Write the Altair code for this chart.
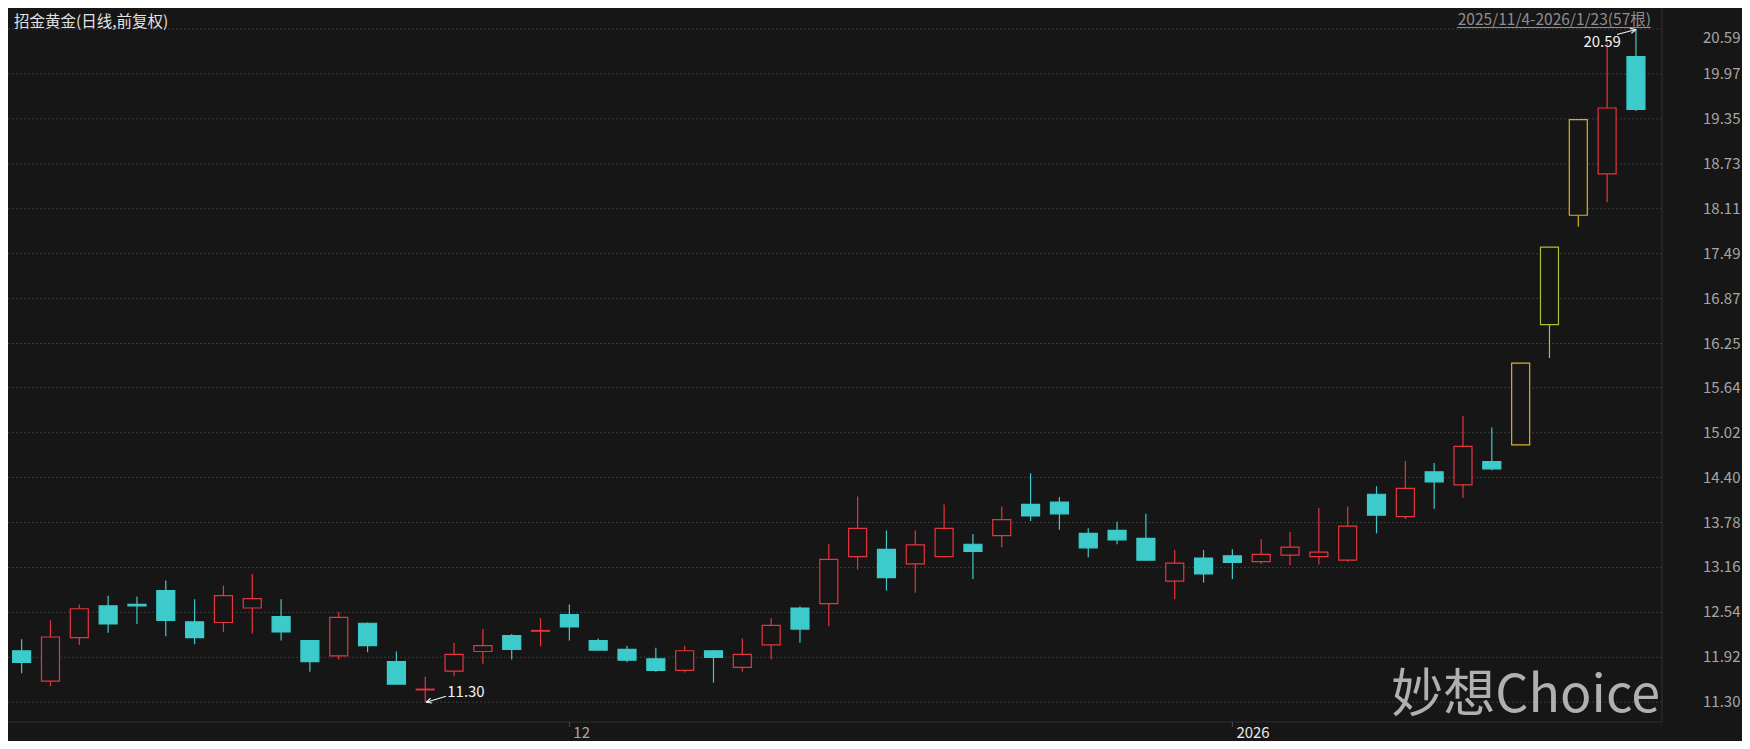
import altair as alt
import numpy as np
import pandas as pd

# ---------------- data ----------------
trade_days = [d for d in pd.bdate_range("2025-11-04", "2026-01-23")
              if not (d.month == 1 and d.day in (1, 2))]
dates = [d.strftime("%Y-%m-%d") for d in trade_days]

opens = [12.01, 11.59, 12.19, 12.63, 12.65, 12.84, 12.41, 12.40, 12.60, 12.48,
         12.15, 11.94, 12.39, 11.86, 11.47, 11.73, 12.00, 12.22, 12.28, 12.51,
         12.15, 12.03, 11.90, 11.74, 12.01, 11.78, 12.09, 12.60, 12.66, 13.31,
         13.41, 13.21, 13.31, 13.48, 13.60, 14.03, 14.06, 13.63, 13.67, 13.56,
         12.97, 13.29, 13.32, 13.24, 13.33, 13.31, 13.26, 14.17, 13.86, 14.48,
         14.30, 14.62, 14.85, 16.51, 18.02, 18.59, 20.21]
highs = [12.17, 12.43, 12.65, 12.77, 12.76, 12.98, 12.72, 12.91, 13.07, 12.72,
         12.16, 12.54, 12.40, 12.00, 11.65, 12.12, 12.31, 12.24, 12.46, 12.65,
         12.18, 12.08, 12.05, 12.08, 12.02, 12.18, 12.46, 12.62, 13.48, 14.14,
         13.67, 13.67, 14.03, 13.62, 14.00, 14.46, 14.13, 13.70, 13.79, 13.90,
         13.40, 13.40, 13.41, 13.55, 13.65, 13.98, 14.00, 14.28, 14.63, 14.60,
         15.25, 15.09, 15.98, 17.58, 19.34, 20.40, 20.59]
lows = [11.70, 11.52, 12.09, 12.26, 12.38, 12.21, 12.10, 12.27, 12.25, 12.15,
        11.72, 11.89, 11.99, 11.55, 11.30, 11.66, 11.83, 11.89, 12.07, 12.15,
        12.01, 11.85, 11.72, 11.71, 11.57, 11.72, 11.89, 12.12, 12.35, 13.13,
        12.84, 12.81, 13.30, 13.00, 13.44, 13.80, 13.68, 13.30, 13.48, 13.26,
        12.72, 12.95, 13.00, 13.21, 13.19, 13.20, 13.24, 13.63, 13.83, 13.97,
        14.12, 14.50, 14.85, 16.05, 17.86, 18.20, 19.46]
closes = [11.85, 12.20, 12.59, 12.38, 12.63, 12.43, 12.19, 12.77, 12.73, 12.27,
          11.86, 12.47, 12.08, 11.55, 11.48, 11.96, 12.08, 12.03, 12.29, 12.34,
          12.02, 11.88, 11.74, 12.01, 11.92, 11.96, 12.36, 12.31, 13.27, 13.70,
          13.02, 13.47, 13.70, 13.38, 13.82, 13.87, 13.90, 13.43, 13.54, 13.26,
          13.22, 13.07, 13.23, 13.34, 13.44, 13.37, 13.73, 13.88, 14.25, 14.34,
          14.83, 14.52, 15.98, 17.58, 19.34, 19.50, 19.48]
limit_days = [52, 53, 54]
limit_kinds = ["limit", "limit_alt", "limit"]

y_ticks = [11.30, 11.92, 12.54, 13.16, 13.78, 14.40, 15.02, 15.64,
           16.25, 16.87, 17.49, 18.11, 18.73, 19.35, 19.97, 20.59]

title_text = "招金黄金(日线,前复权)"
watermark_text = "妙想Choice"

# derived tables
n = len(dates)
kinds = ["up" if c >= o else "down" for o, c in zip(opens, closes)]
for i, k in zip(limit_days, limit_kinds):
    kinds[i] = k
df = pd.DataFrame({"date": dates, "idx": list(range(n)), "open": opens,
                   "high": highs, "low": lows, "close": closes, "kind": kinds})

x_tick_idx = [next(i for i, d in enumerate(trade_days) if d.month == 12),
              next(i for i, d in enumerate(trade_days) if d.year == 2026)]
x_tick_labels = [str(trade_days[x_tick_idx[0]].month), str(trade_days[x_tick_idx[1]].year)]
d0, d1 = trade_days[0], trade_days[-1]
range_text = f"{d0.year}/{d0.month}/{d0.day}-{d1.year}/{d1.month}/{d1.day}({n}根)"

# ---------------- style / layout ----------------
BG = "#161616"
RED = "#e8343e"
CYAN = "#3dcaca"
GOLD = "#d8b01f"
LIME = "#a4c234"
GRID = "#3a3a3a"
BORDER = "#2e2e2e"
LABEL = "#a6a6a6"
FONT = "Noto Sans CJK SC"

W, H = 1654, 714
X_DOM = [-0.3, 56.73]
Y_DOM = [11.027, 20.880]
PX = W / (X_DOM[1] - X_DOM[0])
PY = H / (Y_DOM[1] - Y_DOM[0])

xs = alt.Scale(domain=X_DOM, nice=False, zero=False)
ys = alt.Scale(domain=Y_DOM, nice=False, zero=False)
kind_domain = ["up", "down", "limit", "limit_alt"]
stroke_scale = alt.Scale(domain=kind_domain, range=[RED, CYAN, GOLD, LIME])
fill_scale = alt.Scale(domain=kind_domain, range=[BG, CYAN, BG, BG])

one = pd.DataFrame({"a": [0]})

# ---------------- grid / axes (drawn on the scales) ----------------
grid_df = pd.DataFrame({"v": y_ticks, "label": [f"{t:.2f}" for t in y_ticks]})
top_tick = max(y_ticks)
grid = alt.Chart(grid_df).mark_rule(color=GRID, strokeDash=[2, 2], strokeWidth=1).encode(
    y=alt.Y("v:Q", scale=ys, axis=None))
ylab = alt.Chart(grid_df).transform_filter(f"datum.v < {top_tick}").mark_text(
    align="left", baseline="middle", font=FONT, fontSize=15, color=LABEL).encode(
    y=alt.Y("v:Q", scale=ys, axis=None), x=alt.value(W + 41), text="label:N")
ylab_top = alt.Chart(grid_df).transform_filter(f"datum.v >= {top_tick}").mark_text(
    align="left", baseline="middle", dy=9, font=FONT, fontSize=15, color=LABEL).encode(
    y=alt.Y("v:Q", scale=ys, axis=None), x=alt.value(W + 41), text="label:N")
right_border = alt.Chart(one).mark_rule(color=BORDER, strokeWidth=1).encode(
    x=alt.value(W), y=alt.value(0), y2=alt.value(H))
bottom_border = alt.Chart(one).mark_rule(color=BORDER, strokeWidth=1).encode(
    y=alt.value(H), x=alt.value(0), x2=alt.value(W))

xt_df = pd.DataFrame({"idx": x_tick_idx, "label": x_tick_labels})
xticks = alt.Chart(xt_df).mark_rule(color="#4a4a4a", strokeWidth=1).encode(
    x=alt.X("idx:Q", scale=xs, axis=None), y=alt.value(H), y2=alt.value(H + 5))
xlabels = alt.Chart(xt_df).mark_text(align="left", baseline="top", dx=4, font=FONT,
                                     fontSize=15).encode(
    x=alt.X("idx:Q", scale=xs, axis=None), y=alt.value(H + 4), text="label:N",
    color=alt.Color("label:N", scale=alt.Scale(domain=x_tick_labels, range=[LABEL, "#e8e8e8"]),
                    legend=None))

# ---------------- candles ----------------
wicks = alt.Chart(df).mark_rule(strokeWidth=1.2).encode(
    x=alt.X("idx:Q", scale=xs, axis=None),
    y=alt.Y("low:Q", scale=ys, axis=None),
    y2="high:Q",
    stroke=alt.Stroke("kind:N", scale=stroke_scale, legend=None),
)
bodies = alt.Chart(df).mark_bar(size=18, strokeWidth=1.2).encode(
    x=alt.X("idx:Q", scale=xs, axis=None),
    y=alt.Y("open:Q", scale=ys, axis=None),
    y2="close:Q",
    fill=alt.Fill("kind:N", scale=fill_scale, legend=None),
    stroke=alt.Stroke("kind:N", scale=stroke_scale, legend=None),
)

# ---------------- max / min annotations ----------------
hi_idx = int(np.argmax(highs))
lo_idx = int(np.argmin(lows))


def pt(ix, v, dxp, dyp):
    return ix + dxp / PX, v - dyp / PY


def arrow(ix, v, tip, tail, h1, h2):
    tx, ty = pt(ix, v, *tip)
    rows = []
    for off in (tail, h1, h2):
        ox, oy = pt(ix, v, tip[0] + off[0], tip[1] + off[1])
        rows.append({"x": tx, "y": ty, "x2": ox, "y2": oy})
    return rows


seg_rows = (arrow(hi_idx, highs[hi_idx], (0, 0.5), (-19, 5), (-6, -1.1), (-4.6, 3.8))
            + arrow(lo_idx, lows[lo_idx], (1, 0), (20, -6), (5.9, 0.8), (4.4, -4.1)))
seg_df = pd.DataFrame(seg_rows)
arrows = alt.Chart(seg_df).mark_rule(color="#f0f0f0", strokeWidth=1.2).encode(
    x=alt.X("x:Q", scale=xs, axis=None), y=alt.Y("y:Q", scale=ys, axis=None),
    x2="x2:Q", y2="y2:Q")

hi_df = pd.DataFrame({"idx": [hi_idx], "val": [highs[hi_idx]], "label": [f"{highs[hi_idx]:.2f}"]})
lo_df = pd.DataFrame({"idx": [lo_idx], "val": [lows[lo_idx]], "label": [f"{lows[lo_idx]:.2f}"]})
hi_text = alt.Chart(hi_df).mark_text(align="right", baseline="middle", dx=-15, dy=13,
                                     font=FONT, fontSize=15, color="#f2f2f2").encode(
    x=alt.X("idx:Q", scale=xs, axis=None), y=alt.Y("val:Q", scale=ys, axis=None), text="label:N")
lo_text = alt.Chart(lo_df).mark_text(align="left", baseline="middle", dx=22, dy=-10,
                                     font=FONT, fontSize=15, color="#f2f2f2").encode(
    x=alt.X("idx:Q", scale=xs, axis=None), y=alt.Y("val:Q", scale=ys, axis=None), text="label:N")

# ---------------- header / watermark ----------------
title = alt.Chart(pd.DataFrame({"t": [title_text]})).mark_text(
    align="left", baseline="middle", font=FONT, fontSize=15.5, color="#e2e2e2").encode(
    text="t:N", x=alt.value(6), y=alt.value(14))
rng = alt.Chart(pd.DataFrame({"t": [range_text]})).mark_text(
    align="right", baseline="middle", font=FONT, fontSize=15.5, color="#8e8e8e").encode(
    text="t:N", x=alt.value(1643), y=alt.value(11.5))
underline = alt.Chart(one).mark_rule(color="#8e8e8e", strokeWidth=1).encode(
    x=alt.value(1449), x2=alt.value(1643), y=alt.value(19.5))
wm = alt.Chart(pd.DataFrame({"t": [watermark_text]})).mark_text(
    align="right", baseline="alphabetic", font=FONT, fontSize=52, color="#c6c6c6",
    opacity=0.88).encode(text="t:N", x=alt.value(1652), y=alt.value(704))

chart = alt.layer(
    grid, right_border, bottom_border, xticks, xlabels, ylab, ylab_top,
    wm, wicks, bodies, arrows, hi_text, lo_text, title, rng, underline,
).properties(
    width=W, height=H, background=BG,
    padding={"left": 0, "top": 0, "right": 80, "bottom": 19},
    autosize=alt.AutoSizeParams(type="none"),
).configure_view(stroke=None)

chart.save("out.html", embed_options={"renderer": "svg", "actions": False})
